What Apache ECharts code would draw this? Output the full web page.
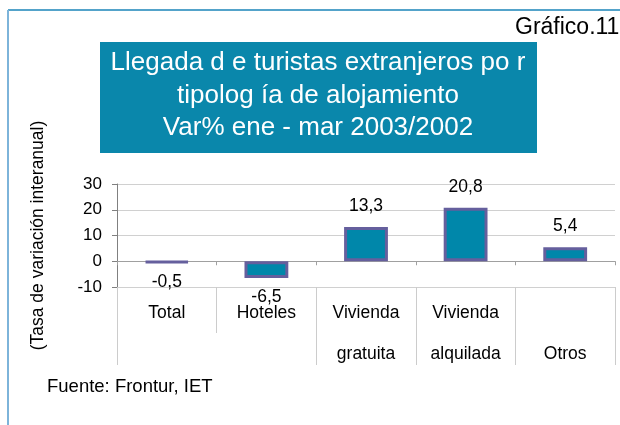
<!DOCTYPE html>
<html>
<head>
<meta charset="utf-8">
<script src="https://cdn.jsdelivr.net/npm/echarts@6/dist/echarts.min.js"></script>
<style>html,body{margin:0;padding:0;background:#fff}#c{width:620px;height:425px}</style>
</head>
<body>
<div id="c"></div>
<script>
const categories = ['Total', 'Hoteles', 'Vivienda\ngratuita', 'Vivienda\nalquilada', '\nOtros'];
const values = [-0.5, -6.5, 13.3, 20.8, 5.4];
const yTicks = [-10, 0, 10, 20, 30];
const titleLines = ['Llegada d e turistas extranjeros po r', 'tipolog ía de alojamiento', 'Var% ene - mar 2003/2002'];
const chartNumber = 'Gráfico.11';
const yName = '(Tasa de variación interanual)';
const source = 'Fuente: Frontur, IET';

const FONT = '"Liberation Sans", Arial, sans-serif';
const chart = echarts.init(document.getElementById('c'));
chart.setOption({
  animation: false,
  textStyle: { fontFamily: FONT },
  grid: { left: 117, right: 5, top: 184, bottom: 138 },
  xAxis: [
    {
      type: 'category', data: categories,
      axisLine: { onZero: true, lineStyle: { color: '#a0a0a0', width: 1 } },
      axisTick: { show: true, length: 4, lineStyle: { color: '#a0a0a0' } },
      axisLabel: { show: false }, splitLine: { show: false }
    },
    {
      type: 'category', data: categories, position: 'bottom',
      axisLine: { show: false, onZero: false },
      axisTick: { show: true, length: 78, interval: function (i) { return i !== 1; }, lineStyle: { color: '#cccccc' } },
      axisLabel: { show: true, interval: 0, margin: 6, color: '#000', fontSize: 17.5, fontFamily: FONT, lineHeight: 41 },
      splitLine: { show: false }
    },
    {
      type: 'category', data: categories, position: 'bottom',
      axisLine: { show: false, onZero: false },
      axisTick: { show: true, length: 46, lineStyle: { color: '#cccccc' } },
      axisLabel: { show: false }, splitLine: { show: false }
    }
  ],
  yAxis: {
    type: 'value', min: yTicks[0], max: yTicks[yTicks.length - 1], interval: 10,
    name: yName, nameLocation: 'middle', nameGap: 70, nameRotate: 90,
    nameTextStyle: { color: '#000', fontSize: 17.5, fontFamily: FONT },
    axisLine: { show: true, lineStyle: { color: '#808080' } },
    axisTick: { show: true, length: 5, lineStyle: { color: '#808080' } },
    axisLabel: { color: '#000', fontSize: 17, margin: 15, fontFamily: FONT },
    splitLine: { show: true, lineStyle: { color: '#d0d0d0', width: 1 } }
  },
  series: [{
    type: 'bar', xAxisIndex: 0,
    data: values.map(v => v < 0 ? { value: v, label: { position: 'bottom', distance: 10 } } : v),
    barWidth: '44%',
    itemStyle: { color: '#0087AA', borderColor: '#655F9D', borderWidth: 3 },
    label: {
      show: true, color: '#000', fontSize: 17.5, fontFamily: FONT,
      position: 'top', distance: 12,
      formatter: p => String(p.value).replace('.', ',')
    }
  }],
  graphic: [
    { type: 'line', shape: { x1: 8, y1: 10, x2: 620, y2: 10 }, style: { stroke: '#1A84B8', lineWidth: 1.5 } },
    { type: 'line', shape: { x1: 8, y1: 10, x2: 8, y2: 425 }, style: { stroke: '#7DB4DA', lineWidth: 2 } },
    { type: 'rect', shape: { x: 100, y: 42, width: 437, height: 111 }, style: { fill: '#0A87AB' } },
    { type: 'text', x: 318, y: 47, style: { text: titleLines.join('\n'), fill: '#fff', font: '26px ' + FONT, textAlign: 'center', lineHeight: 32.5 } },
    { type: 'text', x: 515, y: 28, style: { text: chartNumber, fill: '#000', font: '23px ' + FONT, verticalAlign: 'middle' } },
    { type: 'text', x: 47, y: 387, style: { text: source, fill: '#000', font: '18.5px ' + FONT, verticalAlign: 'middle' } }
  ]
});
</script>
</body>
</html>
